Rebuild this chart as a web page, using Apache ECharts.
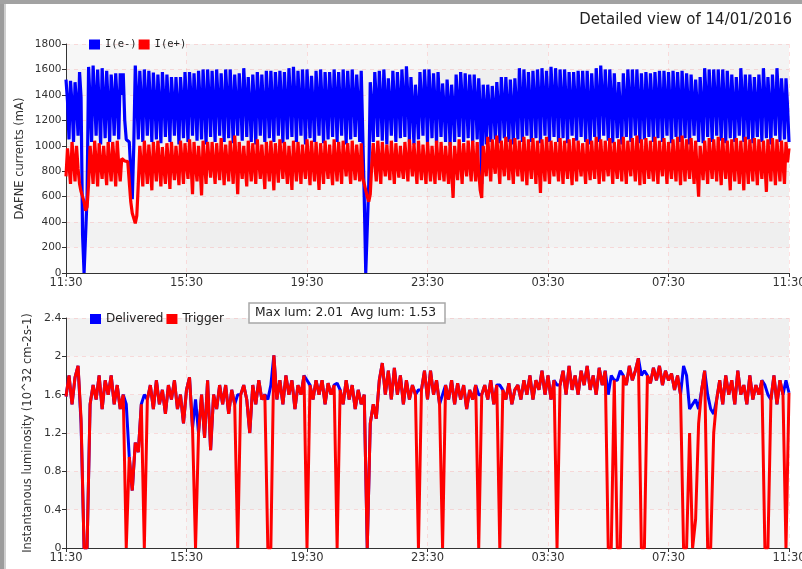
<!DOCTYPE html>
<html>
<head>
<meta charset="utf-8">
<script src="https://cdn.jsdelivr.net/npm/echarts@6/dist/echarts.min.js"></script>
<style>
html,body{margin:0;padding:0;background:#fff;}
#wrap{position:relative;width:802px;height:569px;overflow:hidden;}
#chart{position:absolute;left:0;top:0;width:802px;height:569px;}
#fl{position:absolute;left:0;top:0;width:4px;height:569px;background:#9c9c9c;}
#fl2{position:absolute;left:4px;top:0;width:2px;height:569px;background:#cfcfcf;}
#ft{position:absolute;left:0;top:0;width:802px;height:4px;background:#a2a2a2;}
</style>
</head>
<body>
<div id="wrap"><div id="chart"></div><div id="fl"></div><div id="fl2"></div><div id="ft"></div></div>
<script>
// ---- data: minutes since 11:30 ----
const currentStepMinutes = 3;   // beam currents sampled every 3 minutes (481 samples)
const lumStepMinutes = 6;       // luminosity sampled every 6 minutes (241 samples)
const timeTickLabels = ['11:30','15:30','19:30','23:30','03:30','07:30','11:30'];
const titleText = 'Detailed view of 14/01/2016';
const maxLum = '2.01';
const avgLum = '1.53';

const currentEminus = [
1520,1350,1050,1510,1330,1030,1500,1340,1080,1580,1380,300,0,0,600,
1620,1350,1030,1630,1380,1080,1600,1320,1010,1610,1370,1060,1590,1330,1030,
1560,1380,1080,1570,1350,1050,1570,1400,1570,1200,1050,1040,1030,800,580,
1000,1630,1380,1050,1590,1350,1030,1600,1360,1080,1590,1340,1030,1575,1350,
1050,1560,1330,1020,1580,1360,1070,1560,1320,1030,1540,1350,1080,1540,1330,
1010,1540,1360,1060,1580,1340,1030,1580,1380,1080,1570,1340,1040,1590,1360,
1050,1600,1350,1010,1600,1370,1070,1590,1330,1030,1600,1360,1080,1570,1340,
1030,1600,1380,1060,1600,1350,1020,1560,1340,1080,1570,1360,1040,1610,1380,
1070,1540,1330,1030,1560,1350,1010,1580,1370,1080,1560,1330,1030,1590,1360,
1060,1590,1340,1030,1580,1380,1080,1590,1350,1020,1580,1340,1050,1610,1370,
1070,1620,1380,1030,1590,1350,1080,1600,1340,1010,1600,1360,1060,1550,1330,
1030,1590,1370,1080,1600,1350,1020,1580,1340,1050,1580,1360,1070,1600,1380,
1030,1580,1340,1080,1600,1360,1010,1590,1350,1050,1600,1370,1070,1560,1330,
1030,1590,1100,600,0,0,700,1500,1320,1030,1580,1360,1070,1590,1350,
1040,1600,1370,1010,1530,1340,1080,1590,1350,1030,1580,1360,1060,1600,1380,
1070,1625,1380,1030,1540,1320,1010,1480,1300,1050,1580,1350,1080,1600,1370,
1030,1600,1360,1060,1570,1340,1020,1580,1350,1070,1490,1310,1030,1520,1330,
1000,1480,1300,1030,1560,1350,1070,1580,1370,1030,1570,1340,1060,1560,1360,
1030,1560,1350,1050,1530,1300,700,1480,1300,1010,1480,1290,1030,1470,1300,
1050,1500,1310,1020,1540,1330,1060,1540,1320,1030,1520,1310,1010,1530,1330,
1050,1610,1370,1030,1600,1350,1080,1580,1340,1030,1590,1360,1060,1600,1370,
1020,1610,1380,1080,1590,1350,1030,1620,1380,1070,1610,1360,1030,1600,1370,
1060,1600,1350,1020,1580,1340,1080,1580,1360,1040,1590,1370,1070,1590,1350,
1030,1590,1330,1010,1570,1350,1070,1610,1380,1030,1630,1390,1080,1600,1360,
1040,1600,1370,1020,1570,1340,1060,1500,1300,1010,1570,1350,1070,1600,1370,
1030,1600,1360,1080,1600,1350,1020,1570,1340,1050,1580,1360,1070,1570,1350,
1030,1580,1370,1060,1590,1360,1030,1590,1350,1080,1580,1340,1020,1590,1370,
1070,1580,1350,1030,1590,1360,1060,1570,1340,1010,1560,1350,1080,1520,1320,
1030,1540,1330,1020,1610,1380,1070,1600,1360,1030,1600,1370,1080,1600,1360,
1040,1600,1350,1020,1590,1370,1060,1560,1340,1030,1540,1330,1080,1610,1380,
1030,1560,1340,1050,1560,1350,1020,1540,1330,1070,1560,1360,1030,1610,1380,
1060,1540,1330,1010,1560,1350,1080,1610,1380,1030,1530,1340,1050,1530,1320,
1030];

const currentEplus = [
760,980,850,700,1030,880,720,1000,820,700,640,600,560,490,520,
700,1000,860,700,1040,870,680,1020,850,740,1000,840,690,1030,860,
720,1030,870,680,1040,850,720,900,890,880,880,875,870,560,470,
430,390,450,700,1000,850,680,1040,870,700,1010,840,650,1030,860,
720,1040,860,680,990,830,700,1020,870,660,1030,850,730,1000,840,
690,1040,880,700,1020,860,740,1050,870,620,1030,850,720,1000,840,
610,1040,860,700,1030,880,750,1030,850,700,1020,860,730,1060,880,
690,1010,850,720,1040,870,700,1080,880,620,1030,860,740,1000,840,
680,1040,870,720,1020,850,700,1050,880,740,1010,840,660,1030,860,
720,1040,870,650,1020,860,710,1050,880,740,1030,850,700,1000,840,
653,1040,870,720,1030,860,700,1010,850,740,1050,880,690,1040,860,
720,1030,850,653,1020,870,700,1040,860,740,1010,840,690,1050,870,
720,1030,860,700,1040,880,760,1020,850,700,1040,870,730,1010,850,
720,1020,750,700,650,600,560,620,850,1020,860,720,1040,870,700,
1030,860,760,1010,850,730,1040,870,700,1020,860,750,1000,840,740,
1030,870,720,1050,880,760,1020,850,700,1040,860,730,1010,850,700,
1030,870,720,1000,840,700,1040,860,730,1030,850,720,1000,840,700,
1030,800,590,1000,860,730,1050,880,700,1020,860,760,1040,870,720,
1040,860,720,1030,800,650,590,1000,860,760,1070,880,720,1050,870,
780,1080,890,700,1040,880,760,1070,890,730,1050,870,700,1060,880,
760,1040,870,720,1070,880,690,1050,870,740,1060,880,700,1040,860,
630,1050,870,720,1070,880,700,1040,860,760,1030,860,720,1060,880,
700,1040,860,740,1050,870,690,1060,880,720,1040,870,760,1020,850,
700,1050,870,730,1040,860,740,1070,890,700,1050,870,720,1040,860,
760,1060,880,700,1030,850,740,1050,870,720,1070,880,700,1040,860,
760,1060,870,720,1080,890,690,1050,870,700,1060,880,740,1040,860,
720,1070,880,700,1040,860,760,1060,880,700,1030,860,740,1050,870,
720,1070,880,690,1080,890,720,1050,870,740,1060,870,700,1040,800,
600,1000,860,730,1040,870,700,1060,880,740,1050,870,720,1070,880,
690,1060,870,740,1040,860,650,1050,870,720,1060,880,700,1040,860,
650,1070,880,700,1050,870,720,1060,880,690,1050,870,740,1040,860,
637,1050,870,720,1060,880,690,1050,870,720,1040,860,700,1030,870,
980];

const lumTrigger = [
1.58,1.8,1.5,1.78,1.9,1.35,0,0,1.5,1.7,
1.55,1.8,1.45,1.75,1.6,1.8,1.5,1.7,1.45,1.6,
0,0.95,0.6,1.1,1.0,1.5,0,1.55,1.7,1.45,
1.75,1.5,1.65,1.4,1.7,1.55,1.75,1.45,1.6,1.3,
1.65,1.78,1.25,0,1.2,1.6,1.15,1.75,1.02,1.6,
1.45,1.7,1.5,1.7,1.4,1.65,1.5,0,1.6,1.7,
1.55,1.2,1.7,1.5,1.75,1.55,1.6,0,0,2.01,
1.55,1.75,1.5,1.8,1.6,1.75,1.45,1.7,1.6,1.8,
0,1.7,1.55,1.75,1.6,1.75,1.5,1.72,1.6,1.7,
0,1.65,1.5,1.75,1.55,1.7,1.45,1.65,1.5,1.6,
0,1.3,1.5,1.35,1.75,1.93,1.6,1.85,1.55,1.88,
1.6,1.8,1.5,1.75,1.55,1.7,1.6,0,1.65,1.85,
1.55,1.85,1.6,1.75,1.5,0,1.7,1.55,1.75,1.5,
1.72,1.55,1.7,1.45,1.65,1.55,1.7,0,1.6,1.7,
1.55,1.75,1.5,1.7,0,1.65,1.55,1.72,1.5,1.65,
1.7,1.55,1.75,1.6,1.8,1.55,1.75,1.65,1.85,1.6,
1.8,1.55,1.75,0,1.7,1.85,1.6,1.9,1.65,1.8,
1.6,1.85,1.7,1.9,1.65,1.8,1.6,1.88,1.7,1.85,
0,0,1.75,0,0,1.8,1.7,1.9,1.75,1.85,
1.98,0,0,1.8,1.72,1.88,1.75,1.9,1.7,1.85,
1.75,1.82,1.65,1.8,1.6,0,0,1.2,0,0.3,
1.3,1.65,1.85,0,0,1.2,1.55,1.75,1.5,1.8,
1.6,1.75,1.5,1.85,1.6,1.7,1.5,1.8,1.55,1.7,
1.6,1.75,0,0,1.55,1.8,1.5,1.75,1.6,0,
1.62];

const lumDelivered = [
1.58,1.8,1.5,1.78,1.9,1.3,0,0,1.5,1.7,
1.55,1.8,1.45,1.75,1.6,1.8,1.5,1.7,1.45,1.6,
1.5,0.95,0.6,1.1,1.0,1.5,1.6,1.55,1.7,1.45,
1.75,1.5,1.65,1.4,1.7,1.55,1.75,1.45,1.6,1.3,
1.65,1.78,1.25,1.55,1.2,1.6,1.15,1.75,1.02,1.6,
1.45,1.7,1.5,1.7,1.4,1.65,1.5,1.6,1.6,1.7,
1.55,1.2,1.7,1.5,1.75,1.55,1.6,1.55,1.7,2.01,
1.55,1.75,1.5,1.8,1.6,1.75,1.45,1.7,1.6,1.8,
1.75,1.7,1.55,1.75,1.6,1.75,1.5,1.72,1.6,1.7,
1.72,1.65,1.5,1.75,1.55,1.7,1.45,1.65,1.5,1.6,
0,1.3,1.5,1.35,1.75,1.93,1.6,1.85,1.55,1.88,
1.6,1.8,1.5,1.75,1.55,1.7,1.6,1.65,1.65,1.85,
1.55,1.85,1.6,1.75,1.5,1.6,1.7,1.55,1.75,1.5,
1.72,1.55,1.7,1.45,1.65,1.55,1.7,1.6,1.6,1.7,
1.55,1.75,1.5,1.7,1.7,1.65,1.55,1.72,1.5,1.65,
1.7,1.55,1.75,1.6,1.8,1.55,1.75,1.65,1.85,1.6,
1.8,1.55,1.75,1.7,1.7,1.85,1.6,1.9,1.65,1.8,
1.6,1.85,1.7,1.9,1.65,1.8,1.6,1.88,1.7,1.85,
1.6,1.8,1.75,1.75,1.85,1.8,1.7,1.9,1.75,1.85,
1.98,1.8,1.85,1.8,1.72,1.88,1.75,1.9,1.7,1.85,
1.75,1.82,1.65,1.8,1.6,1.9,1.8,1.45,1.5,1.55,
1.45,1.65,1.85,1.6,1.45,1.4,1.55,1.75,1.5,1.8,
1.6,1.75,1.5,1.85,1.6,1.7,1.5,1.8,1.55,1.7,
1.6,1.75,1.7,1.6,1.55,1.8,1.5,1.75,1.6,1.75,
1.62];

function toPairs(vals, step){ return vals.map((v,i)=>[i*step, v]); }

const FONT = 'DejaVu Sans';
const gridLine = {show:true, lineStyle:{color:'rgba(255,120,120,0.22)', type:[4,4], width:1}};
function xAx(gi){
  return {
    type:'value', gridIndex:gi, min:0, max:1440, interval:240,
    axisLine:{show:true, onZero:false, lineStyle:{color:'#333', width:1}},
    axisTick:{show:true, length:4, lineStyle:{color:'#333'}},
    axisLabel:{margin:4, color:'#333', fontFamily:FONT, fontSize:11.5, hideOverlap:false,
      formatter:(v)=>timeTickLabels[Math.round(v/240)]},
    splitLine:gridLine,
    splitArea:{show:true, areaStyle:{color:['rgba(0,0,0,0.006)','rgba(0,0,0,0.018)']}}
  };
}
function yAx(gi, max, interval, name, gap, fs){
  return {type:'value', gridIndex:gi, min:0, max:max, interval:interval,
     name:name, nameLocation:'middle', nameGap:gap, nameMoveOverlap:false,
     nameTextStyle:{fontFamily:FONT, fontSize:11.5, color:'#333'},
     axisLine:{show:true, lineStyle:{color:'#333'}},
     axisTick:{show:true, length:4, lineStyle:{color:'#333'}},
     axisLabel:{margin:4.5, color:'#333', fontFamily:FONT, fontSize:fs,
       formatter:(v)=>String(parseFloat(Number(v).toFixed(3)))},
     splitLine:gridLine,
     splitArea:{show:true, areaStyle:{color:['rgba(0,0,0,0.0)','rgba(0,0,0,0.02)']}}};
}
const chart = echarts.init(document.getElementById('chart'), null, {renderer:'canvas'});
chart.setOption({
  animation:false,
  backgroundColor:'#ffffff',
  title:{text:titleText, right:5, top:8, textStyle:{fontFamily:FONT, fontSize:15, fontWeight:'normal', color:'#222'}},
  legend:[
    {data:['I(e-)','I(e+)'], left:84, top:34, icon:'rect', itemWidth:11, itemHeight:10, itemGap:2,
     textStyle:{fontFamily:'DejaVu Sans Mono', fontSize:10.5, color:'#222'}},
    {data:['Delivered','Trigger'], left:85, top:308, icon:'rect', itemWidth:11, itemHeight:10, itemGap:3,
     textStyle:{fontFamily:FONT, fontSize:12, color:'#222'}}
  ],
  grid:[
    {left:66, right:13, top:44, height:229, show:true, backgroundColor:'#f9f9f9', borderWidth:0, containLabel:false, outerBoundsMode:'none'},
    {left:66, right:13, top:318, height:230, show:true, backgroundColor:'#f9f9f9', borderWidth:0, containLabel:false, outerBoundsMode:'none'}
  ],
  xAxis:[xAx(0), xAx(1)],
  yAxis:[
    yAx(0, 1800, 200, 'DAFNE currents (mA)', 40, 10.5),
    yAx(1, 2.4, 0.4, 'Instantanous luminosity (10^32 cm-2s-1)', 31.5, 11)
  ],
  series:[
    {name:'I(e-)', type:'line', xAxisIndex:0, yAxisIndex:0, data:toPairs(currentEminus, currentStepMinutes),
     showSymbol:false, symbol:'none', color:'#0000ff', lineStyle:{width:3.2, color:'#0000ff'}},
    {name:'I(e+)', type:'line', xAxisIndex:0, yAxisIndex:0, data:toPairs(currentEplus, currentStepMinutes),
     showSymbol:false, symbol:'none', color:'#ff0000', lineStyle:{width:3.2, color:'#ff0000'}},
    {name:'Delivered', type:'line', xAxisIndex:1, yAxisIndex:1, data:toPairs(lumDelivered, lumStepMinutes),
     showSymbol:false, symbol:'none', color:'#0000ff', lineStyle:{width:3, color:'#0000ff'}},
    {name:'Trigger', type:'line', xAxisIndex:1, yAxisIndex:1, data:toPairs(lumTrigger, lumStepMinutes),
     showSymbol:false, symbol:'none', color:'#ff0000', lineStyle:{width:3, color:'#ff0000'}}
  ],
  graphic:[
    {type:'rect', shape:{x:249, y:303, width:196, height:20}, style:{fill:'#fff', stroke:'#a8a8a8', lineWidth:1.5}, z:100},
    {type:'text', x:255, y:313, style:{text:'Max lum: '+maxLum+'  Avg lum: '+avgLum, fontFamily:FONT, fontSize:12.3, fill:'#222', verticalAlign:'middle'}, z:101}
  ]
});
</script>
</body>
</html>
